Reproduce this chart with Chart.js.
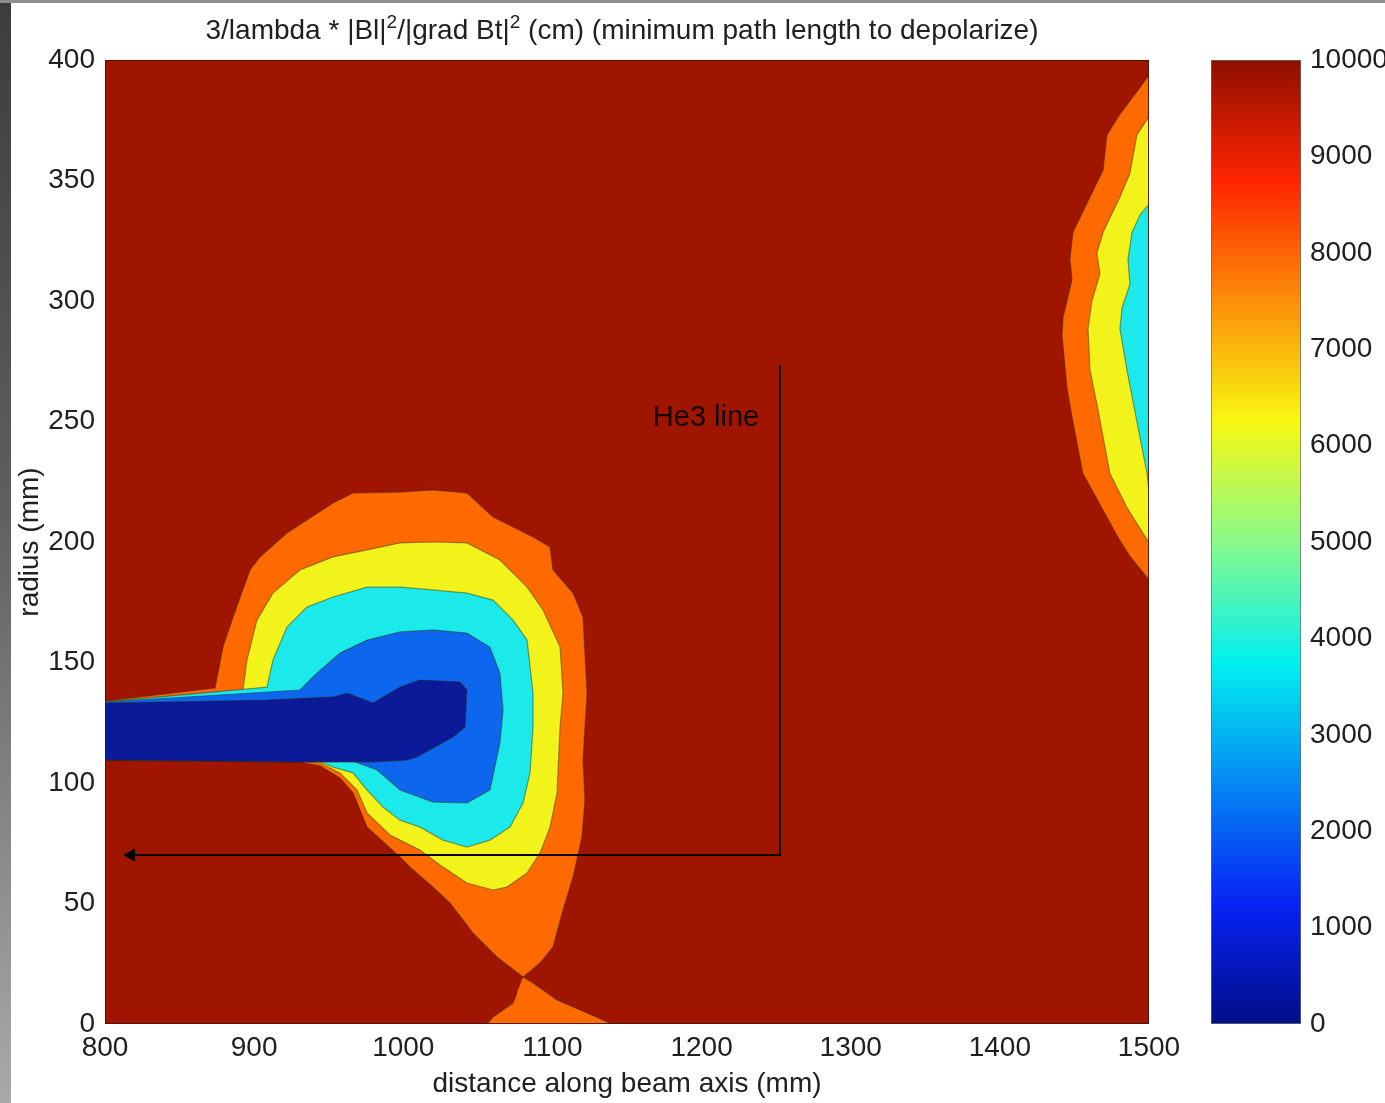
<!DOCTYPE html>
<html>
<head>
<meta charset="utf-8">
<title>minimum path length to depolarize</title>
<script src="https://cdn.jsdelivr.net/npm/chart.js@4.4.1/dist/chart.umd.min.js"></script>
<style>
  html, body { margin: 0; padding: 0; background: #fff; }
  #wrap { position: relative; width: 1385px; height: 1103px; overflow: hidden; background: #fff; }
  #main { position: absolute; left: 0; top: 0; }
  #bar { position: absolute; left: 1150px; top: 0; }
  #edgeL { position: absolute; left: 0; top: 0; width: 11px; height: 1103px;
           background: linear-gradient(to bottom, #3c3c3c, #5e5e5e 45%, #a9a9a9); }
  #edgeT { position: absolute; left: 0; top: 0; width: 1385px; height: 3px; background: #8e8e8e; }
</style>
</head>
<body>
<div id="wrap">
  <canvas id="main" width="1385" height="1103"></canvas>
  <canvas id="bar" width="235" height="1103"></canvas>
  <div id="edgeL"></div>
  <div id="edgeT"></div>
</div>
<script>
// ---- data (mm) ----
const xTicks = [800, 900, 1000, 1100, 1200, 1300, 1400, 1500];
const yTicks = [0, 50, 100, 150, 200, 250, 300, 350, 400];
const cbTicks = [0, 1000, 2000, 3000, 4000, 5000, 6000, 7000, 8000, 9000, 10000];

// filled contour bands, each a closed outline [distance, radius]
const band0 = [[800,133.2],[908.6,134.4],[952.9,135.7],[962.3,137.3],[979.7,133.2],[997.8,139.8],[1011.2,142.7],[1038.0,141.9],[1042.7,138.6],[1041.4,123.2],[1033.3,119.1],[1009.2,110.8],[1002.5,109.5],[979.7,108.7],[930.7,108.7],[800,109.5]];
const band2000 = [[800,133.6],[930.7,138.6],[942.1,145.6],[957.6,153.9],[975.7,159.3],[997.8,162.7],[1019.9,163.5],[1042.7,162.2],[1058.1,156.4],[1064.8,145.6],[1066.9,130.3],[1064.8,116.6],[1058.1,97.1],[1042.7,91.7],[1019.9,92.1],[997.8,97.1],[982.4,105.4],[964.3,109.5],[942.1,110.8],[800,109.5]];
const band4000 = [[800,133.6],[908.6,139.8],[912.6,151.0],[922.0,164.7],[935.4,173.0],[952.9,177.2],[975.7,181.3],[997.8,181.3],[1019.9,180.1],[1042.7,178.8],[1060.2,175.9],[1073.6,167.6],[1083.0,159.3],[1087.0,137.3],[1087.0,123.2],[1085.0,104.2],[1080.3,91.7],[1071.6,81.7],[1058.1,76.3],[1042.7,73.4],[1026.6,76.3],[1011.2,81.7],[997.8,84.6],[986.4,90.0],[975.7,97.1],[966.3,104.2],[952.9,106.6],[942.1,109.5],[800,109.5]];
const band6000 = [[800,133.8],[892.5,138.6],[895.2,151.0],[901.9,167.6],[912.6,178.8],[930.7,188.4],[952.9,193.8],[975.7,196.7],[997.8,199.6],[1019.9,200.0],[1042.7,199.6],[1064.8,192.5],[1083.0,181.3],[1093.7,171.8],[1105.1,156.4],[1107.1,137.3],[1105.1,123.2],[1103.1,95.9],[1098.4,81.7],[1091.7,71.0],[1083.0,62.7],[1069.5,56.8],[1060.2,55.6],[1042.7,58.5],[1026.6,65.1],[1011.2,72.2],[997.8,76.3],[991.1,78.4],[975.7,87.6],[969.0,97.1],[957.6,104.2],[944.2,108.3],[930.7,109.1],[800,109.5]];
const band8000 = [[800,134.0],[873.8,139.4],[879.1,156.4],[885.2,167.6],[897.2,188.4],[903.9,193.8],[922.0,203.7],[952.9,216.2],[966.3,220.3],[997.8,220.7],[1019.9,221.6],[1042.7,220.3],[1060.2,210.4],[1087.0,202.1],[1098.4,197.9],[1100.4,188.4],[1113.8,178.8],[1120.5,168.9],[1123.2,137.3],[1120.5,109.5],[1121.8,92.9],[1119.8,77.6],[1113.8,61.0],[1107.1,47.3],[1100.4,32.0],[1091.7,25.3],[1080.3,19.5],[1062.8,27.8],[1046.7,37.8],[1031.3,50.2],[1019.9,56.8],[1004.5,65.1],[997.8,69.3],[975.7,81.7],[966.3,95.9],[957.6,102.1],[944.2,107.1],[930.7,108.7],[800,109.5]];
const band8000low = [[1080.3,19.5],[1087.0,17.0],[1103.1,10.0],[1123.2,4.6],[1139.9,0],[1056.1,0],[1060.2,2.9],[1073.6,8.7],[1076.2,12.9]];
const band8000right = [[1500,393.8],[1494.0,388.6],[1480.5,377.5],[1471.8,368.9],[1469.2,354.3],[1460.4,343.1],[1449.0,328.5],[1447.0,317.3],[1448.4,308.8],[1442.3,292.9],[1441.7,285.6],[1445.0,264.1],[1449.0,249.9],[1455.7,228.4],[1467.1,215.6],[1478.5,202.7],[1487.2,194.1],[1500,184.2]];
const band6000right = [[1500,376.6],[1491.9,368.9],[1487.2,353.0],[1480.5,343.1],[1469.2,328.5],[1465.1,319.9],[1467.1,311.3],[1461.8,300.2],[1459.1,288.5],[1460.4,271.4],[1465.1,257.2],[1473.8,228.4],[1485.2,214.3],[1500,199.7]];
const band4000right = [[1500,340.1],[1494.0,335.8],[1488.6,328.5],[1485.9,317.3],[1487.2,307.0],[1481.9,297.1],[1480.5,288.5],[1485.2,271.4],[1491.9,249.9],[1498.7,228.4],[1500,221.1]];

// "He3 line" path with arrow, and its label
const he3X = [1252.6, 1252.6, 817.5];
const he3Y = [273.4, 70.1, 70.1];
const he3Label = { text: 'He3 line', x: 1203, y: 251.5 };

// ---- styling ----
const FONT = "'Liberation Sans', Arial, sans-serif";
const txt = '#202020';
const edge = 'rgba(45,45,10,0.45)';
const colors = {
  bg: '#9f1500',
  c0: '#0a1a98',
  c2000: '#0c66ee',
  c4000: '#1ceaea',
  c6000: '#f3f31c',
  c8000: '#ff6a00'
};
// jet colormap stops for the colour bar
const jetStops = [[0, '#020f86'], [0.125, '#0722f5'], [0.375, '#02f0f0'], [0.5, '#88fa8a'],
                  [0.625, '#f8f812'], [0.875, '#ff2400'], [1, '#8e1000']];

const toPts = arr => arr.map(p => ({ x: p[0], y: p[1] }));

function band(data, color) {
  return {
    data: toPts(data),
    showLine: true,
    fill: 'shape',
    backgroundColor: color,
    borderColor: edge,
    borderWidth: 1.2,
    pointRadius: 0,
    tension: 0
  };
}

// title with superscripts
const titleParts = [
  { text: '3/lambda * |Bl|', sup: false },
  { text: '2', sup: true },
  { text: '/|grad Bt|', sup: false },
  { text: '2', sup: true },
  { text: ' (cm) (minimum path length to depolarize)', sup: false }
];

const plotDecor = {
  id: 'plotDecor',
  beforeDatasetsDraw(chart) {
    const { ctx, chartArea: a } = chart;
    ctx.save();
    ctx.fillStyle = colors.bg;
    ctx.fillRect(a.left, a.top, a.width, a.height);
    ctx.restore();
  },
  afterDatasetsDraw(chart) {
    const { ctx, chartArea: a, scales } = chart;
    ctx.save();
    // frame
    ctx.strokeStyle = 'rgba(70,20,10,0.9)';
    ctx.lineWidth = 1;
    ctx.strokeRect(a.left + 0.5, a.top + 0.5, a.width - 1, a.height - 1);
    // He3 label
    ctx.fillStyle = '#140000';
    ctx.font = '29px ' + FONT;
    ctx.textAlign = 'center';
    ctx.textBaseline = 'middle';
    ctx.fillText(he3Label.text, scales.x.getPixelForValue(he3Label.x), scales.y.getPixelForValue(he3Label.y));
    ctx.restore();
  },
  afterDraw(chart) {
    const ctx = chart.ctx;
    const big = '28px ' + FONT, small = '19px ' + FONT;
    const base = 38.5, center = 622;
    ctx.save();
    ctx.fillStyle = txt;
    ctx.textAlign = 'left';
    ctx.textBaseline = 'alphabetic';
    let w = 0;
    titleParts.forEach(p => { ctx.font = p.sup ? small : big; w += ctx.measureText(p.text).width; });
    let x = center - w / 2;
    titleParts.forEach(p => {
      ctx.font = p.sup ? small : big;
      ctx.fillText(p.text, x, p.sup ? base - 11 : base);
      x += ctx.measureText(p.text).width;
    });
    ctx.restore();
  }
};

const he3Line = he3X.map((x, i) => ({ x: x, y: he3Y[i] }));

// datasets: first one is drawn on top
const datasets = [
  { data: [he3Line[2]], pointStyle: 'triangle', rotation: -90, pointRadius: 7,
    backgroundColor: '#000', borderColor: '#000', showLine: false },
  { data: he3Line, showLine: true, fill: false, borderColor: '#0a0000', borderWidth: 2, pointRadius: 0 },
  band(band0, colors.c0),
  band(band2000, colors.c2000),
  band(band4000, colors.c4000),
  band(band6000, colors.c6000),
  band(band8000, colors.c8000),
  band(band8000low, colors.c8000),
  band(band4000right, colors.c4000),
  band(band6000right, colors.c6000),
  band(band8000right, colors.c8000)
];

const tickFont = { family: FONT, size: 28 };

new Chart(document.getElementById('main'), {
  type: 'scatter',
  data: { datasets: datasets },
  options: {
    responsive: false,
    animation: false,
    layout: { padding: { left: 0, top: 60, right: 236, bottom: 0 } },
    plugins: { legend: { display: false }, tooltip: { enabled: false }, title: { display: false } },
    scales: {
      x: {
        type: 'linear', min: 800, max: 1500,
        afterBuildTicks: s => { s.ticks = xTicks.map(v => ({ value: v })); },
        afterFit: s => { s.height = 79; },
        grid: { display: false, drawTicks: false },
        border: { display: false },
        ticks: { padding: 7, font: tickFont, color: txt, maxRotation: 0, autoSkip: false, callback: v => String(v) },
        title: { display: true, text: 'distance along beam axis (mm)', font: tickFont, color: txt, padding: { top: 0, bottom: 2 } }
      },
      y: {
        type: 'linear', min: 0, max: 400,
        afterBuildTicks: s => { s.ticks = yTicks.map(v => ({ value: v })); },
        afterFit: s => { s.width = 105; },
        grid: { display: false, drawTicks: false },
        border: { display: false },
        ticks: { padding: 10, font: tickFont, color: txt, autoSkip: false, callback: v => String(v) },
        title: { display: true, text: 'radius (mm)', font: tickFont, color: txt, padding: { top: 13, bottom: 0 } }
      }
    }
  },
  plugins: [plotDecor]
});

// ---- colour bar ----
function jetGradient(chart) {
  const a = chart.chartArea;
  if (!a) return colors.c8000;
  const g = chart.ctx.createLinearGradient(0, a.bottom, 0, a.top);
  jetStops.forEach(s => g.addColorStop(s[0], s[1]));
  return g;
}

new Chart(document.getElementById('bar'), {
  type: 'bar',
  data: {
    labels: [''],
    datasets: [{
      data: [cbTicks[cbTicks.length - 1]],
      backgroundColor: ctx => jetGradient(ctx.chart),
      borderColor: '#6a6a6a',
      borderWidth: 1,
      borderSkipped: false,
      barPercentage: 1,
      categoryPercentage: 1
    }]
  },
  options: {
    responsive: false,
    animation: false,
    layout: { padding: { left: 61, top: 60, right: 0, bottom: 79 } },
    plugins: { legend: { display: false }, tooltip: { enabled: false } },
    scales: {
      x: { display: false },
      y: {
        position: 'right', min: 0, max: 10000,
        afterBuildTicks: s => { s.ticks = cbTicks.map(v => ({ value: v })); },
        afterFit: s => { s.width = 84; },
        grid: { display: false, drawTicks: false },
        border: { display: false },
        ticks: { padding: 9, font: tickFont, color: txt, autoSkip: false, callback: v => String(v) }
      }
    }
  }
});
</script>
</body>
</html>
